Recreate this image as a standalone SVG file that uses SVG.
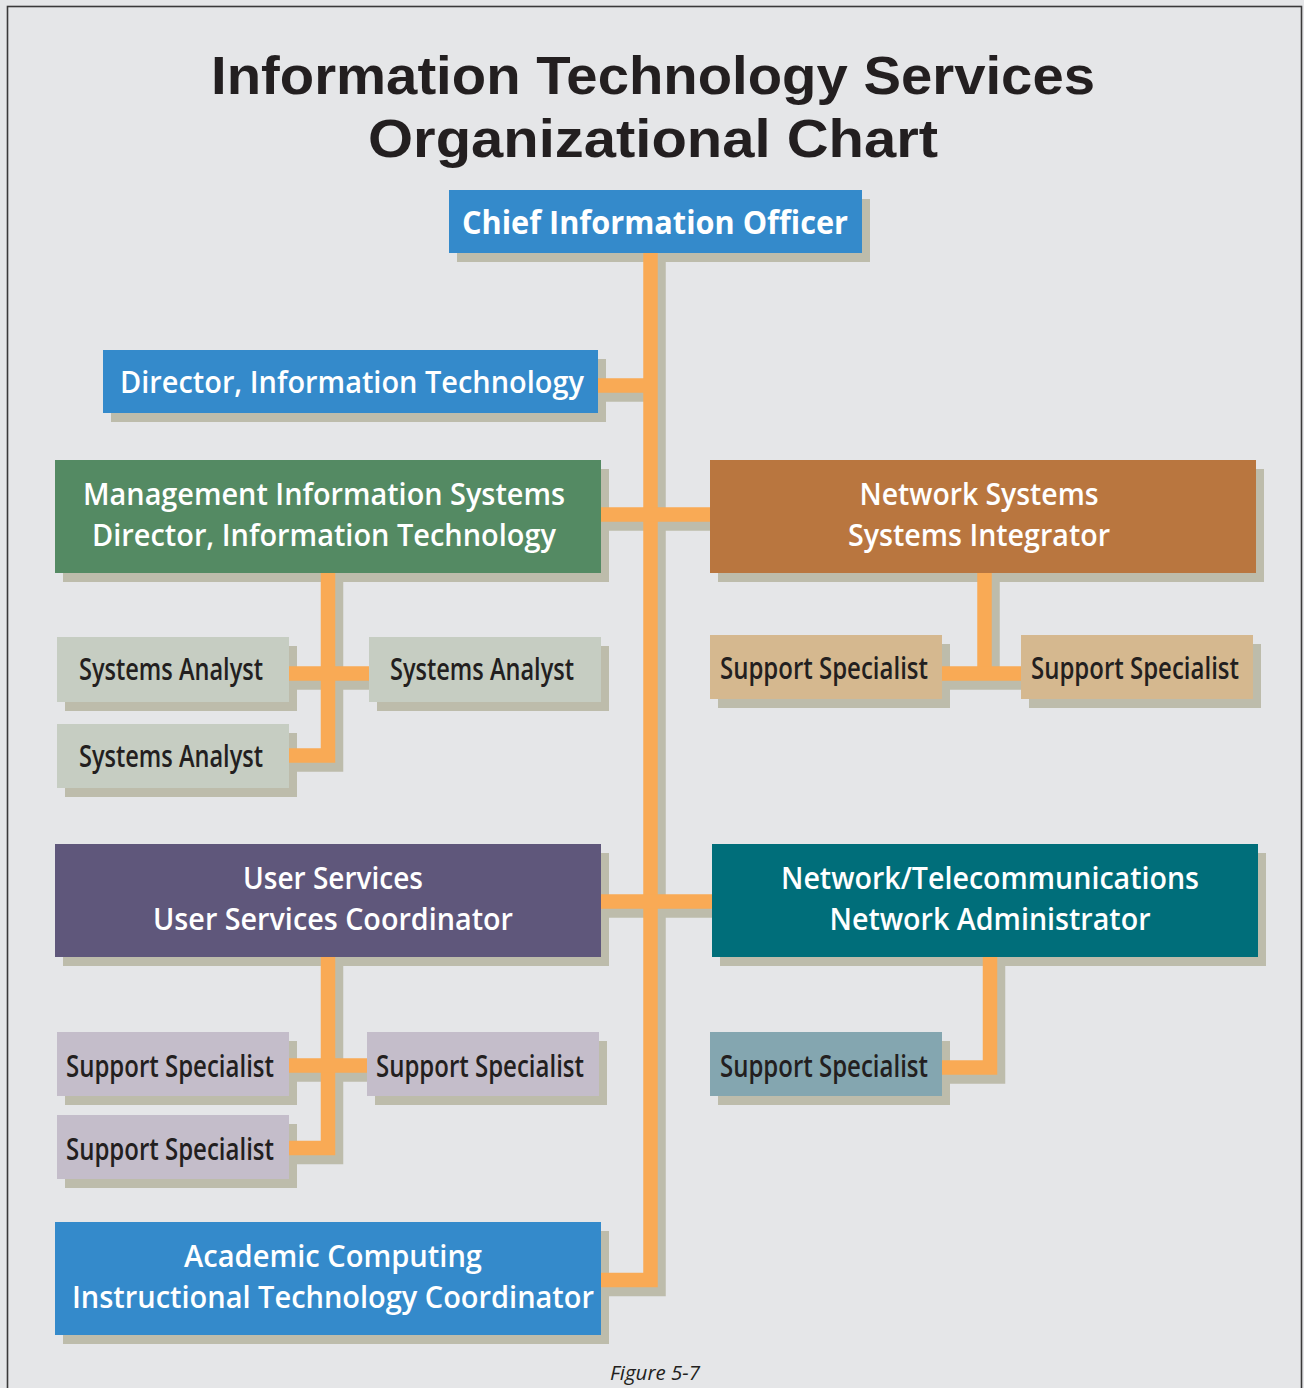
<svg xmlns="http://www.w3.org/2000/svg" width="1304" height="1388" viewBox="0 0 1304 1388">
<style>
.bg{fill:#e5e6e8}
.sh{fill:#bdbcab}
.lnsh{fill:none;stroke:#bdbcab;stroke-width:14.5;stroke-linejoin:miter}
.ln{fill:none;stroke:#f9aa55;stroke-width:14.5;stroke-linejoin:miter}
.t{font-family:"Open Sans","Noto Sans","Liberation Sans",sans-serif;text-anchor:middle}
.w{fill:#ffffff;font-size:31px;font-weight:600}
.d{fill:#231f20;font-size:31px;font-weight:600}
.title{fill:#231f20;font-family:"Liberation Sans",Arial,sans-serif;font-size:54px;font-weight:700;text-anchor:middle}
.cap{fill:#231f20;font-size:20px;font-style:italic}
</style>
<rect class="bg" x="0" y="0" width="1304" height="1388"/>
<rect x="7.5" y="6.5" width="1294" height="1400" fill="none" stroke="#3a3a3a" stroke-width="1.6"/>
<text class="title" x="653" y="94" textLength="884" lengthAdjust="spacingAndGlyphs">Information Technology Services</text>
<text class="title" x="653" y="157" textLength="570" lengthAdjust="spacingAndGlyphs">Organizational Chart</text>

<g id="shadows">
<rect class="sh" x="457" y="199" width="413" height="63"/>
<rect class="sh" x="111" y="359" width="495" height="63"/>
<rect class="sh" x="63" y="469" width="546" height="113"/>
<rect class="sh" x="718" y="469" width="546" height="113"/>
<rect class="sh" x="65" y="646" width="232" height="65"/>
<rect class="sh" x="377" y="646" width="232" height="65"/>
<rect class="sh" x="65" y="733" width="232" height="64"/>
<rect class="sh" x="718" y="644" width="232" height="64"/>
<rect class="sh" x="1029" y="644" width="232" height="64"/>
<rect class="sh" x="63" y="853" width="546" height="113"/>
<rect class="sh" x="720" y="853" width="546" height="113"/>
<rect class="sh" x="65" y="1041" width="232" height="64"/>
<rect class="sh" x="375" y="1041" width="232" height="64"/>
<rect class="sh" x="65" y="1124" width="232" height="64"/>
<rect class="sh" x="718" y="1041" width="232" height="64"/>
<rect class="sh" x="63" y="1231" width="546" height="113"/>
</g>

<g id="connectors">
<g transform="translate(8,9)">
<path class="lnsh" d="M650.5,253 V1280 H601"/>
<path class="lnsh" d="M598,385.5 H651"/>
<path class="lnsh" d="M601,514.5 H710"/>
<path class="lnsh" d="M601,901.5 H712"/>
<path class="lnsh" d="M328,573 V755.5 H289 M289,673.5 H369"/>
<path class="lnsh" d="M984.5,573 V673.5 M942,673.5 H1021"/>
<path class="lnsh" d="M328,957 V1148 H289 M289,1065.5 H367"/>
<path class="lnsh" d="M990,957 V1067.5 H942"/>
</g>
<path class="ln" d="M650.5,253 V1280 H601"/>
<path class="ln" d="M598,385.5 H651"/>
<path class="ln" d="M601,514.5 H710"/>
<path class="ln" d="M601,901.5 H712"/>
<path class="ln" d="M328,573 V755.5 H289"/>
<path class="ln" d="M289,673.5 H369"/>
<path class="ln" d="M984.5,573 V673.5"/>
<path class="ln" d="M942,673.5 H1021"/>
<path class="ln" d="M328,957 V1148 H289"/>
<path class="ln" d="M289,1065.5 H367"/>
<path class="ln" d="M990,957 V1067.5 H942"/>
</g>

<g id="cio"><rect x="449" y="190" width="413" height="63" fill="#348acb"/>
<text class="t" x="655" y="234" fill="#fff" font-size="33" font-weight="700" textLength="386" lengthAdjust="spacingAndGlyphs">Chief Information Officer</text></g>

<g id="dir-it"><rect x="103" y="350" width="495" height="63" fill="#348acb"/>
<text class="t w" x="352" y="393" textLength="464" lengthAdjust="spacingAndGlyphs">Director, Information Technology</text></g>

<g id="mis"><rect x="55" y="460" width="546" height="113" fill="#548a63"/>
<text class="t w" x="324" y="505" textLength="482" lengthAdjust="spacingAndGlyphs">Management Information Systems</text>
<text class="t w" x="324" y="546" textLength="464" lengthAdjust="spacingAndGlyphs">Director, Information Technology</text></g>

<g id="net-sys"><rect x="710" y="460" width="546" height="113" fill="#b9763f"/>
<text class="t w" x="979" y="505" textLength="239" lengthAdjust="spacingAndGlyphs">Network Systems</text>
<text class="t w" x="979" y="546" textLength="262" lengthAdjust="spacingAndGlyphs">Systems Integrator</text></g>

<g id="sa1"><rect x="57" y="637" width="232" height="65" fill="#c6cdc2"/>
<text class="t d" x="171" y="680" textLength="184" lengthAdjust="spacingAndGlyphs">Systems Analyst</text></g>
<g id="sa2"><rect x="369" y="637" width="232" height="65" fill="#c6cdc2"/>
<text class="t d" x="482" y="680" textLength="184" lengthAdjust="spacingAndGlyphs">Systems Analyst</text></g>
<g id="sa3"><rect x="57" y="724" width="232" height="64" fill="#c6cdc2"/>
<text class="t d" x="171" y="767" textLength="184" lengthAdjust="spacingAndGlyphs">Systems Analyst</text></g>

<g id="ns-ss1"><rect x="710" y="635" width="232" height="64" fill="#d5b88f"/>
<text class="t d" x="824" y="679" textLength="208" lengthAdjust="spacingAndGlyphs">Support Specialist</text></g>
<g id="ns-ss2"><rect x="1021" y="635" width="232" height="64" fill="#d5b88f"/>
<text class="t d" x="1135" y="679" textLength="208" lengthAdjust="spacingAndGlyphs">Support Specialist</text></g>

<g id="user-services"><rect x="55" y="844" width="546" height="113" fill="#5f577b"/>
<text class="t w" x="333" y="889" textLength="180" lengthAdjust="spacingAndGlyphs">User Services</text>
<text class="t w" x="333" y="930" textLength="360" lengthAdjust="spacingAndGlyphs">User Services Coordinator</text></g>

<g id="net-tel"><rect x="712" y="844" width="546" height="113" fill="#006e7a"/>
<text class="t w" x="990" y="889" textLength="418" lengthAdjust="spacingAndGlyphs">Network/Telecommunications</text>
<text class="t w" x="990" y="930" textLength="321" lengthAdjust="spacingAndGlyphs">Network Administrator</text></g>

<g id="us-ss1"><rect x="57" y="1032" width="232" height="64" fill="#c4bdca"/>
<text class="t d" x="170" y="1077" textLength="208" lengthAdjust="spacingAndGlyphs">Support Specialist</text></g>
<g id="us-ss2"><rect x="367" y="1032" width="232" height="64" fill="#c4bdca"/>
<text class="t d" x="480" y="1077" textLength="208" lengthAdjust="spacingAndGlyphs">Support Specialist</text></g>
<g id="us-ss3"><rect x="57" y="1115" width="232" height="64" fill="#c4bdca"/>
<text class="t d" x="170" y="1160" textLength="208" lengthAdjust="spacingAndGlyphs">Support Specialist</text></g>

<g id="nt-ss"><rect x="710" y="1032" width="232" height="64" fill="#84a6b0"/>
<text class="t d" x="824" y="1077" textLength="208" lengthAdjust="spacingAndGlyphs">Support Specialist</text></g>

<g id="academic"><rect x="55" y="1222" width="546" height="113" fill="#348acb"/>
<text class="t w" x="333" y="1267" textLength="298" lengthAdjust="spacingAndGlyphs">Academic Computing</text>
<text class="t w" x="333" y="1308" textLength="522" lengthAdjust="spacingAndGlyphs">Instructional Technology Coordinator</text></g>

<text class="t cap" x="655" y="1380" textLength="90" lengthAdjust="spacingAndGlyphs">Figure 5-7</text>
</svg>
